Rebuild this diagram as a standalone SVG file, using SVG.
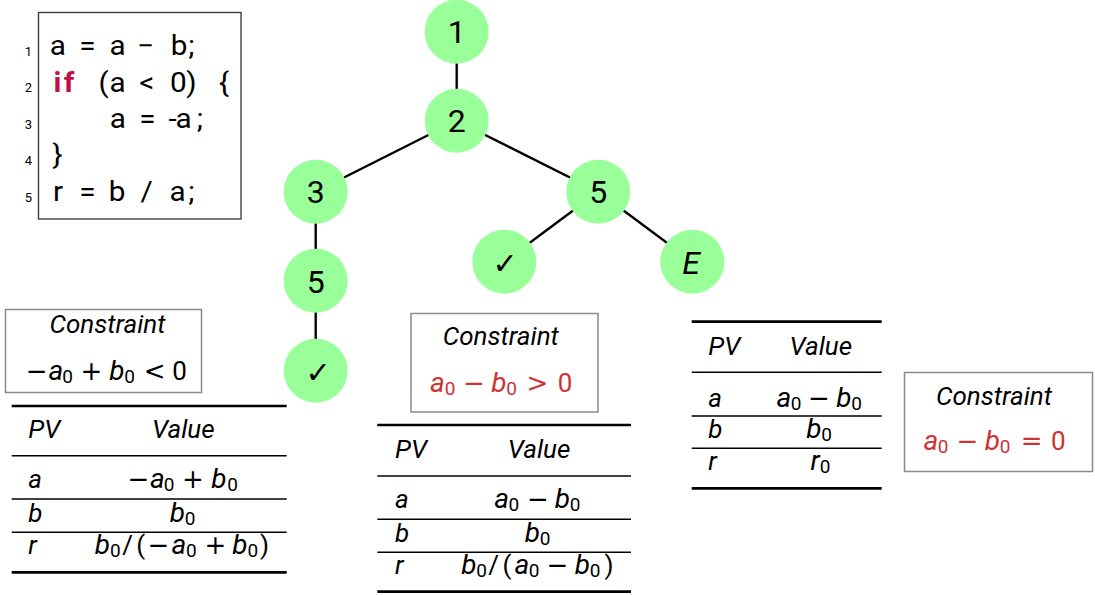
<svg xmlns="http://www.w3.org/2000/svg" width="1095" height="595" viewBox="0 0 1095 595">
<style>
.bg{fill:#fff}
.box{fill:none;stroke:#8a8a8a;stroke-width:1.5}
.cbox{fill:none;stroke:#333;stroke-width:1.3}
.thick{stroke:#000;stroke-width:2.7}
.thin{stroke:#000;stroke-width:1.4}
.node circle{fill:#99ff99}
.edge{stroke:#000;stroke-width:2.4;fill:none}
.lbl{font-family:Roboto,"Liberation Sans",sans-serif;font-size:32px;text-anchor:middle;fill:#000}
.chk{font-family:"DejaVu Sans",sans-serif;font-size:30px;text-anchor:middle}
.it{font-family:Roboto,"Liberation Sans",sans-serif;font-style:italic}
.hd{font-size:26px}
.m{text-anchor:middle}
.v{font-family:Roboto,"Liberation Sans",sans-serif;font-style:italic;font-size:28px}
.s{font-family:Roboto,"Liberation Sans",sans-serif;font-size:19px}
.d{font-family:Roboto,"Liberation Sans",sans-serif;font-size:26px}
.p{font-family:Roboto,"Liberation Sans",sans-serif;font-size:26px}
.o{font-family:"DejaVu Sans",sans-serif;font-size:26px}
.red{fill:#cc3333}
.code{font-family:Roboto,"Liberation Sans",sans-serif;font-size:27px;text-anchor:middle;fill:#000}
.kw{font-weight:bold;fill:#c0104a}
.ln{font-family:Roboto,"Liberation Sans",sans-serif;font-size:13px;text-anchor:end;fill:#000}
</style>
<rect class="bg" x="0" y="0" width="1095" height="595"/>

<g id="code">
<rect class="cbox" x="38.5" y="12.5" width="202.5" height="206.5"/>
<text class="ln" x="32" y="55.5">1</text>
<text class="ln" x="32" y="92">2</text>
<text class="ln" x="32" y="128.5">3</text>
<text class="ln" x="32" y="164.5">4</text>
<text class="ln" x="32" y="201.5">5</text>
<g transform="scale(1.1,1)">
<text class="code" x="52.55 79.55 106.82 132.55 162.73 174.09" y="55.5">a=a−b;</text>
<text class="code kw" x="52.27 62.73" y="92">if</text>
<text class="code" x="94.27 106.82 133.36 162.09 174.09 203.64" y="92">(a&lt;0){</text>
<text class="code" x="107.09 134.09 156.82 167 181.8" y="128.5">a=-a;</text>
<text class="code" x="52.27" y="164">}</text>
<text class="code" x="52.73 79.55 106.36 133.36 161.36 174.09" y="201.5">r=b/a;</text>
</g>
</g>

<g id="edges">
<line class="edge" x1="456.7" y1="31.7" x2="456.7" y2="120.7"/>
<line class="edge" x1="456.7" y1="120.7" x2="315.7" y2="191.7"/>
<line class="edge" x1="456.7" y1="120.7" x2="598.3" y2="191.7"/>
<line class="edge" x1="315.7" y1="191.7" x2="315.7" y2="280.7"/>
<line class="edge" x1="315.7" y1="280.7" x2="315.7" y2="370.7"/>
<line class="edge" x1="598.3" y1="191.7" x2="504.3" y2="261.7"/>
<line class="edge" x1="598.3" y1="191.7" x2="692.3" y2="261.7"/>
</g>

<g id="n1" class="node"><circle cx="456.7" cy="31.7" r="32"/><text class="lbl" x="456.7" y="42.7">1</text></g>
<g id="n2" class="node"><circle cx="456.7" cy="120.7" r="32"/><text class="lbl" x="456.7" y="132.2">2</text></g>
<g id="n3" class="node"><circle cx="315.7" cy="191.7" r="32"/><text class="lbl" x="315.7" y="203">3</text></g>
<g id="n5left" class="node"><circle cx="315.7" cy="280.7" r="32"/><text class="lbl" x="315.7" y="292.5">5</text></g>
<g id="okleft" class="node"><circle cx="315.7" cy="370.7" r="32"/><text class="chk" x="318" y="383">✓</text></g>
<g id="n5right" class="node"><circle cx="598.3" cy="191.7" r="32"/><text class="lbl" x="598.3" y="203">5</text></g>
<g id="okright" class="node"><circle cx="504.3" cy="261.7" r="32"/><text class="chk" x="505" y="274">✓</text></g>
<g id="nE" class="node"><circle cx="692.3" cy="261.7" r="32"/><text class="lbl it" x="691" y="273.5">E</text></g>

<g id="constraint-left">
<rect class="box" x="5.5" y="309.5" width="196" height="83"/>
<text class="it hd m" x="107.5" y="333.3">Constraint</text>
<text class="m"><tspan class="o" x="36.7" y="380">−</tspan><tspan class="v" x="55.8" y="380">a</tspan><tspan class="s" x="67.5" y="383">0</tspan><tspan class="o" x="91.5" y="380">+</tspan><tspan class="v" x="117" y="380">b</tspan><tspan class="s" x="129.5" y="383">0</tspan><tspan class="o" x="154.7" y="380">&lt;</tspan><tspan class="d" x="179.5" y="380">0</tspan></text>
</g>

<g id="table-left">
<line class="thick" x1="11.7" y1="406" x2="286.7" y2="406"/>
<line class="thin" x1="11.7" y1="455.7" x2="286.7" y2="455.7"/>
<line class="thin" x1="11.7" y1="499" x2="286.7" y2="499"/>
<line class="thin" x1="11.7" y1="532.3" x2="286.7" y2="532.3"/>
<line class="thick" x1="11.7" y1="572.3" x2="286.7" y2="572.3"/>
<text class="it hd" x="28.3" y="438">PV</text>
<text class="it hd m" x="183.3" y="438">Value</text>
<text class="it hd" x="28.3" y="488">a</text>
<text class="it hd" x="28.3" y="521.7">b</text>
<text class="it hd" x="28.3" y="554">r</text>
<text class="m"><tspan class="o" x="138.3" y="488">−</tspan><tspan class="v" x="157.5" y="488">a</tspan><tspan class="s" x="169" y="491">0</tspan><tspan class="o" x="193" y="488">+</tspan><tspan class="v" x="219" y="488">b</tspan><tspan class="s" x="232.5" y="491">0</tspan></text>
<text class="m"><tspan class="v" x="177.5" y="521.7">b</tspan><tspan class="s" x="190" y="524.7">0</tspan></text>
<text class="m"><tspan class="v" x="102.5" y="554">b</tspan><tspan class="s" x="115.3" y="557">0</tspan><tspan class="p" x="127.5" y="554">/</tspan><tspan class="p" x="140.8" y="554">(</tspan><tspan class="o" x="158.3" y="554">−</tspan><tspan class="v" x="179" y="554">a</tspan><tspan class="s" x="191.3" y="557">0</tspan><tspan class="o" x="215.5" y="554">+</tspan><tspan class="v" x="240" y="554">b</tspan><tspan class="s" x="252.8" y="557">0</tspan><tspan class="p" x="264.5" y="554">)</tspan></text>
</g>

<g id="constraint-middle">
<rect class="box" x="411" y="313.5" width="187" height="98.5"/>
<text class="it hd m" x="500.8" y="345">Constraint</text>
<text class="m red"><tspan class="v" x="437.5" y="391.7">a</tspan><tspan class="s" x="450" y="394.7">0</tspan><tspan class="o" x="474" y="391.7">−</tspan><tspan class="v" x="499" y="391.7">b</tspan><tspan class="s" x="511.7" y="394.7">0</tspan><tspan class="o" x="537.5" y="391.7">&gt;</tspan><tspan class="d" x="565" y="391.7">0</tspan></text>
</g>

<g id="table-middle">
<line class="thick" x1="377.3" y1="425" x2="631" y2="425"/>
<line class="thin" x1="377.3" y1="476" x2="631" y2="476"/>
<line class="thin" x1="377.3" y1="519.3" x2="631" y2="519.3"/>
<line class="thin" x1="377.3" y1="552.3" x2="631" y2="552.3"/>
<line class="thick" x1="377.3" y1="591.7" x2="631" y2="591.7"/>
<text class="it hd" x="395" y="458.3">PV</text>
<text class="it hd m" x="539" y="458.3">Value</text>
<text class="it hd" x="395" y="508.3">a</text>
<text class="it hd" x="395" y="541.7">b</text>
<text class="it hd" x="395" y="574">r</text>
<text class="m"><tspan class="v" x="501.7" y="508.3">a</tspan><tspan class="s" x="513.8" y="511.3">0</tspan><tspan class="o" x="538" y="508.3">−</tspan><tspan class="v" x="562.5" y="508.3">b</tspan><tspan class="s" x="575" y="511.3">0</tspan></text>
<text class="m"><tspan class="v" x="532.5" y="541.7">b</tspan><tspan class="s" x="545" y="544.7">0</tspan></text>
<text class="m"><tspan class="v" x="469" y="574">b</tspan><tspan class="s" x="481.7" y="577">0</tspan><tspan class="p" x="493.5" y="574">/</tspan><tspan class="p" x="507" y="574">(</tspan><tspan class="v" x="522" y="574">a</tspan><tspan class="s" x="534" y="577">0</tspan><tspan class="o" x="557.5" y="574">−</tspan><tspan class="v" x="582.5" y="574">b</tspan><tspan class="s" x="595" y="577">0</tspan><tspan class="p" x="609" y="574">)</tspan></text>
</g>

<g id="table-right">
<line class="thick" x1="691.7" y1="321.7" x2="881.7" y2="321.7"/>
<line class="thin" x1="691.7" y1="372.3" x2="881.7" y2="372.3"/>
<line class="thin" x1="691.7" y1="416" x2="881.7" y2="416"/>
<line class="thin" x1="691.7" y1="448.3" x2="881.7" y2="448.3"/>
<line class="thick" x1="691.7" y1="488.3" x2="881.7" y2="488.3"/>
<text class="it hd" x="708.3" y="355">PV</text>
<text class="it hd m" x="820.8" y="355">Value</text>
<text class="it hd" x="708.3" y="406.7">a</text>
<text class="it hd" x="708.3" y="438.3">b</text>
<text class="it hd" x="708.3" y="470">r</text>
<text class="m"><tspan class="v" x="784" y="406.7">a</tspan><tspan class="s" x="796" y="409.7">0</tspan><tspan class="o" x="819" y="406.7">−</tspan><tspan class="v" x="844" y="406.7">b</tspan><tspan class="s" x="856.7" y="409.7">0</tspan></text>
<text class="m"><tspan class="v" x="814" y="438.3">b</tspan><tspan class="s" x="826.7" y="441.3">0</tspan></text>
<text class="m"><tspan class="v" x="815" y="470">r</tspan><tspan class="s" x="825" y="473">0</tspan></text>
</g>

<g id="constraint-right">
<rect class="box" x="904.5" y="372.5" width="188" height="99"/>
<text class="it hd m" x="994" y="405">Constraint</text>
<text class="m red"><tspan class="v" x="931" y="450">a</tspan><tspan class="s" x="943" y="453">0</tspan><tspan class="o" x="967.5" y="450">−</tspan><tspan class="v" x="992.5" y="450">b</tspan><tspan class="s" x="1005" y="453">0</tspan><tspan class="o" x="1031.7" y="450">=</tspan><tspan class="d" x="1058.3" y="450">0</tspan></text>
</g>
</svg>
